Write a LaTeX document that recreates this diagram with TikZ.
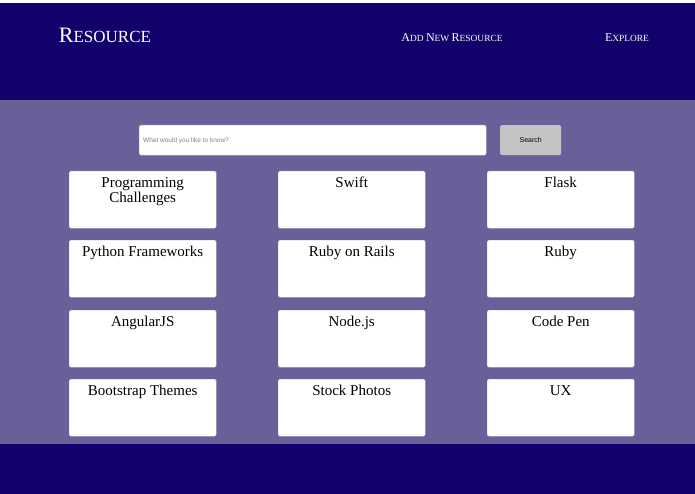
\documentclass[tikz,border=0pt]{standalone}
\usepackage{fontspec}
\setmainfont{Liberation Serif}
\newfontfamily\uisans{Liberation Sans}
\definecolor{navy}{HTML}{14006A}
\definecolor{mainbg}{HTML}{6B5F9A}
\definecolor{btn}{HTML}{C4C4C4}
\newcommand{\fsc}[4]{{\fontsize{#3}{#3}\selectfont #1}{\fontsize{#4}{#4}\selectfont #2}}
\tikzset{card/.style={draw=gray!40,fill=white,rounded corners=1.5pt,minimum width=147pt,minimum height=57pt,anchor=north west},
cardtext/.style={anchor=north,align=center,font=\fontsize{15}{15.5}\selectfont,inner sep=0pt},
navtext/.style={text=white,anchor=base}}
\begin{document}
\begin{tikzpicture}[x=1pt,y=-1pt]
\fill[white] (0,0) rectangle (695,494);
\fill[navy] (0,3) rectangle (695,100);
\fill[mainbg] (0,100) rectangle (695,444);
\fill[navy] (0,444) rectangle (695,494);
\node[navtext] (logo) at (105,43) {\fsc{R}{ESOURCE}{22}{17}};
\node[navtext] (add) at (452,42) {\fsc{A}{DD }{12}{9.4}\fsc{N}{EW }{12}{9.4}\fsc{R}{ESOURCE}{12}{9.4}};
\node[navtext] (exp) at (627,42) {\fsc{E}{XPLORE}{12}{9.4}};
\node[draw=gray!50,fill=white,rounded corners=1.5pt,minimum width=347pt,minimum height=30pt,anchor=north west] (search) at (139,125) {};
\node[anchor=west,text=gray,font=\uisans\fontsize{6.5}{7}\selectfont,inner sep=0pt] (ph) at (143,140.5) {What would you like to know?};
\node[fill=btn,rounded corners=1.5pt,minimum width=61pt,minimum height=30pt,anchor=north west] (btn) at (500,125) {};
\node[font=\uisans\fontsize{7}{7}\selectfont] (btnt) at (btn.center) {Search};
\foreach \x/\y/\t/\n in {69/171/{Programming\\Challenges}/a,278/171/Swift/b,487/171/Flask/c,
69/240/Python Frameworks/d,278/240/Ruby on Rails/e,487/240/Ruby/f,
69/310/AngularJS/g,278/310/Node.js/h,487/310/Code Pen/i,
69/379/Bootstrap Themes/j,278/379/Stock Photos/k,487/379/UX/l}{
\node[card] (c\n) at (\x,\y) {};
\node[cardtext] (t\n) at ([yshift=-6pt]c\n.north) {\t};
}
\end{tikzpicture}
\end{document}
